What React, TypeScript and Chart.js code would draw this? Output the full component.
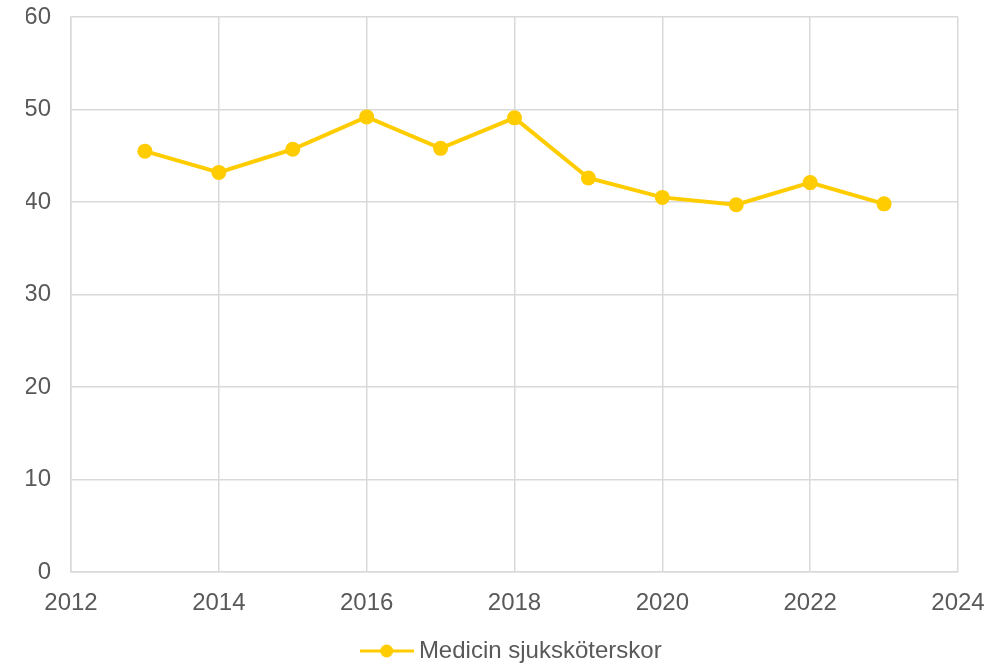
import React, { useEffect, useRef } from "react";
import { Chart, registerables } from "chart.js";

Chart.register(...registerables);

const years = [2013, 2014, 2015, 2016, 2017, 2018, 2019, 2020, 2021, 2022, 2023];
const values = [45.5, 43.2, 45.7, 49.2, 45.8, 49.1, 42.6, 40.5, 39.7, 42.1, 39.8];
const seriesLabel = "Medicin sjuksköterskor";
const xMin = 2012;
const xMax = 2024;
const yMin = 0;
const yMax = 60;

const COLOR = "#FFCC00";
const TEXT = "#595959";
const GRID = "#d9d9d9";
const FONT = "'Liberation Sans', Arial, sans-serif";
const FS = 24;

function legendIcon(): HTMLCanvasElement {
  const c = document.createElement("canvas");
  c.width = 54;
  c.height = 14;
  const ctx = c.getContext("2d")!;
  ctx.strokeStyle = COLOR;
  ctx.lineWidth = 3;
  ctx.beginPath();
  ctx.moveTo(0, 7);
  ctx.lineTo(54, 7);
  ctx.stroke();
  ctx.fillStyle = COLOR;
  ctx.beginPath();
  ctx.arc(27, 7, 6.5, 0, Math.PI * 2);
  ctx.fill();
  return c;
}

export default function App() {
  const ref = useRef<HTMLCanvasElement>(null);
  useEffect(() => {
    const icon = legendIcon();
    const chart = new Chart(ref.current!, {
      type: "line",
      data: {
        datasets: [
          {
            label: seriesLabel,
            data: years.map((y, i) => ({ x: y, y: values[i] })),
            borderColor: COLOR,
            backgroundColor: COLOR,
            borderWidth: 4,
            pointRadius: 7.5,
            pointBackgroundColor: COLOR,
            pointBorderColor: COLOR,
            pointBorderWidth: 0,
            tension: 0,
          },
        ],
      },
      options: {
        responsive: false,
        animation: false,
        layout: { padding: { top: 0, left: 26, right: 0, bottom: -9 } },
        scales: {
          x: {
            type: "linear",
            min: xMin,
            max: xMax,
            ticks: {
              stepSize: 2,
              color: TEXT,
              font: { family: FONT, size: FS },
              padding: 17,
              maxRotation: 0,
              callback: (v: any) => String(v),
            },
            grid: { color: GRID, lineWidth: 1.5, drawTicks: false },
            border: { color: GRID, width: 1.5 },
            afterFit: (s: any) => {
              s.height = 67;
              s.paddingRight = 44;
              s.paddingLeft = 0;
            },
          },
          y: {
            min: yMin,
            max: yMax,
            ticks: {
              stepSize: 10,
              color: TEXT,
              font: { family: FONT, size: FS },
              padding: 20,
            },
            grid: { color: GRID, lineWidth: 1.5, drawTicks: false },
            border: { color: GRID, width: 1.5 },
            afterFit: (s: any) => {
              s.width = 45;
              s.paddingTop = 17;
              s.paddingBottom = 0;
            },
          },
        },
        plugins: {
          tooltip: { enabled: false },
          legend: {
            position: "bottom",
            labels: {
              color: TEXT,
              font: { family: FONT, size: FS },
              usePointStyle: true,
              pointStyleWidth: 40.5,
              padding: 0,
              generateLabels: () => [
                {
                  text: seriesLabel,
                  fillStyle: COLOR,
                  strokeStyle: COLOR,
                  pointStyle: icon as any,
                  fontColor: TEXT,
                  datasetIndex: 0,
                  hidden: false,
                  lineWidth: 0,
                },
              ],
            },
          },
        },
      },
    });
    return () => chart.destroy();
  }, []);
  return (
    <div style={{ position: "absolute", left: 0, top: 0, width: 1002, height: 664, background: "#fff" }}>
      <canvas ref={ref} width={1002} height={664} />
    </div>
  );
}
